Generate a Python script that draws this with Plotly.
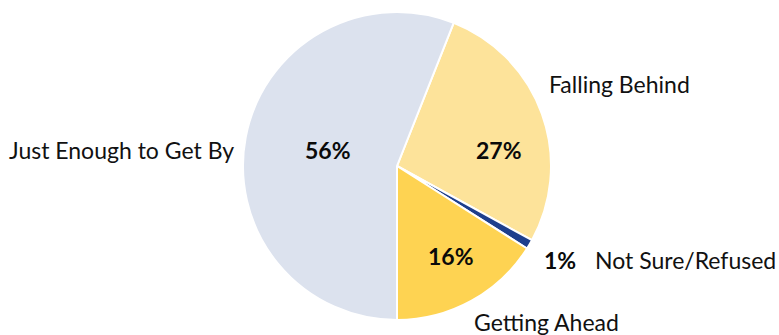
import plotly.graph_objects as go

# Share of respondents by how they describe their financial situation
categories = ["Falling Behind", "Not Sure/Refused", "Getting Ahead", "Just Enough to Get By"]
shares = [27, 1, 16, 56]
colors = ["#fde39a", "#1e3f8c", "#fed352", "#dce2ee"]

W, H = 779, 335
cx, cy, R = 397, 166, 154  # pie centre and radius in pixels (y from top)

# Label placement (pixels, y from top): value label and category label per slice
value_pos = [(499, 150), (560, 260), (451, 256), (328, 150)]
cat_pos = [(547, 84, "left"), (593, 260, "left"), (472, 322, "left"), (236, 150, "right")]

fig = go.Figure(go.Pie(
    labels=categories,
    values=shares,
    sort=False,
    direction="clockwise",
    rotation=21.6,
    marker=dict(colors=colors, line=dict(color="white", width=2)),
    textinfo="none",
    hoverinfo="label+percent",
    showlegend=False,
    domain=dict(x=[(cx - R) / W, (cx + R) / W],
                y=[(H - cy - R) / H, (H - cy + R) / H]),
))

font_reg = "Lato, 'DejaVu Sans', sans-serif"
annotations = []
for cat, val, (vx, vy), (lx, ly, anchor) in zip(categories, shares, value_pos, cat_pos):
    annotations.append(dict(
        x=vx / W, y=1 - vy / H, xref="paper", yref="paper",
        text=f"<b>{val}%</b>", showarrow=False, xanchor="center", yanchor="middle",
        font=dict(family=font_reg, size=23, color="#0a0a0a", weight=900),
    ))
    annotations.append(dict(
        x=lx / W, y=1 - ly / H, xref="paper", yref="paper",
        text=cat, showarrow=False, xanchor=anchor, yanchor="middle",
        font=dict(family=font_reg, size=23, color="#111111"),
    ))

fig.update_layout(
    width=W, height=H,
    margin=dict(l=0, r=0, t=0, b=0),
    paper_bgcolor="white",
    plot_bgcolor="white",
    annotations=annotations,
)

fig.write_html("out.html")
